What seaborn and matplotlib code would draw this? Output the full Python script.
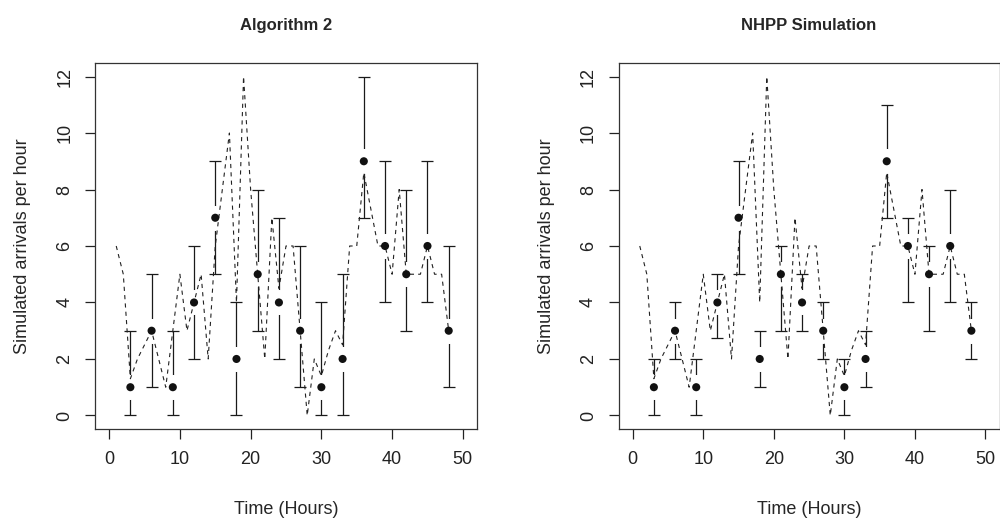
import matplotlib
matplotlib.use("Agg")
import matplotlib.pyplot as plt
import seaborn as sns
import pandas as pd

# Hourly arrival rate (dashed curve), same in both panels
hours = list(range(1, 49))
rate = [6, 5, 1.3, 2, 2.5, 3, 2, 1, 3, 5, 3, 4, 5, 2, 6, 8, 10, 4, 12, 8,
        5, 2, 7, 4.5, 6, 6, 3, 0, 2, 1.4, 2.3, 3, 2.5, 6, 6, 8.6, 7.3, 6, 6, 5,
        8, 5, 5, 5, 6, 5, 5, 3]

# Simulated counts every third hour with interval bounds
sample_hours = [3, 6, 9, 12, 15, 18, 21, 24, 27, 30, 33, 36, 39, 42, 45, 48]

alg2_mid = [1, 3, 1, 4, 7, 2, 5, 4, 3, 1, 2, 9, 6, 5, 6, 3]
alg2_low = [0, 1, 0, 2, 5, 0, 3, 2, 1, 0, 0, 7, 4, 3, 4, 1]
alg2_high = [3, 5, 3, 6, 9, 4, 8, 7, 6, 4, 5, 12, 9, 8, 9, 6]

nhpp_mid = [1, 3, 1, 4, 7, 2, 5, 4, 3, 1, 2, 9, 6, 5, 6, 3]
nhpp_low = [0, 2, 0, 2.75, 5, 1, 3, 3, 2, 0, 1, 7, 4, 3, 4, 2]
nhpp_high = [2, 4, 2, 5, 9, 3, 6, 5, 4, 2, 3, 11, 7, 6, 8, 4]

panels = [
    ("Algorithm 2", alg2_mid, alg2_low, alg2_high),
    ("NHPP Simulation", nhpp_mid, nhpp_low, nhpp_high),
]

sns.set_style("ticks")
plt.rcParams["font.family"] = ["Liberation Sans", "DejaVu Sans"]
plt.rcParams["lines.scale_dashes"] = False

fig = plt.figure(figsize=(10, 5.24), dpi=100)
positions = [[0.095, 0.1813, 0.382, 0.6985], [0.6186, 0.1813, 0.381, 0.6985]]

rate_df = pd.DataFrame({"hour": hours, "rate": rate})

for pos, (title, mid, low, high) in zip(positions, panels):
    ax = fig.add_axes(pos)
    df = pd.DataFrame({"hour": sample_hours, "mid": mid, "low": low, "high": high})

    # interval bars with caps
    ax.errorbar(df["hour"], df["mid"],
                yerr=[df["mid"] - df["low"], df["high"] - df["mid"]],
                fmt="none", ecolor="#1a1a1a", elinewidth=0.9,
                capsize=4.3, capthick=0.9, zorder=1)
    # white gap around each point (like plotCI)
    ax.plot(df["hour"], df["mid"], "o", ms=18, mfc="white", mec="none",
            ls="none", zorder=2)

    sns.lineplot(data=rate_df, x="hour", y="rate", ax=ax, color="#222222",
                 lw=0.8, linestyle=(0, (3, 3)), zorder=3)
    sns.scatterplot(data=df, x="hour", y="mid", ax=ax, color="#111111",
                    s=34, edgecolor="none", zorder=4)

    ax.set_xlim(-2, 52)
    ax.set_ylim(-0.48, 12.48)
    ax.set_xticks(range(0, 51, 10))
    ax.set_yticks(range(0, 13, 2))
    ax.tick_params(length=7.5, width=0.9, colors="#222222", labelsize=13,
                   labelcolor="#222222")
    ax.tick_params(axis="x", pad=8)
    ax.tick_params(axis="y", labelrotation=90, pad=8)
    for lab in ax.get_yticklabels():
        lab.set_va("center")
    for sp in ax.spines.values():
        sp.set_visible(True)
        sp.set_linewidth(0.9)
        sp.set_color("#333333")

    ax.set_title(title, fontsize=12, fontweight="bold", pad=24)
    ax.set_xlabel("Time (Hours)", fontsize=13, labelpad=24)
    ax.set_ylabel("Simulated arrivals per hour", fontsize=13, labelpad=18)

fig.savefig("out.png", dpi=100)
